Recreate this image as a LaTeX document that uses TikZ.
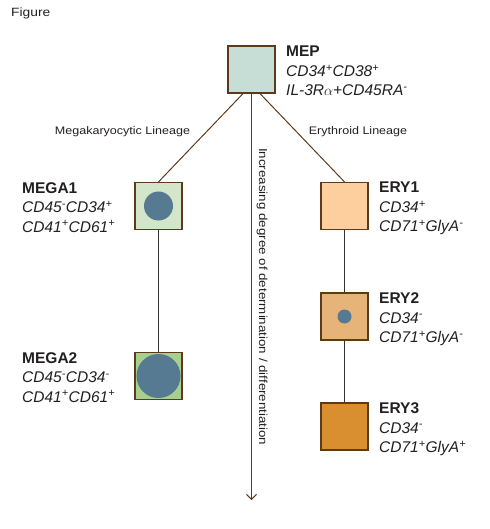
\documentclass[tikz,border=0pt]{standalone}
\usepackage{fontspec}
\setmainfont{Liberation Sans}
\newfontfamily\widesans[FakeStretch=1.15]{Liberation Sans}
\usetikzlibrary{arrows.meta}

\definecolor{cellline}{HTML}{5C3A1E}
\definecolor{inktext}{HTML}{231F20}
\definecolor{mepfill}{HTML}{C6DED6}
\definecolor{megafillA}{HTML}{D3E6C9}
\definecolor{megafillB}{HTML}{A8CF8E}
\definecolor{eryfillA}{HTML}{FDCF9F}
\definecolor{eryfillB}{HTML}{E6B478}
\definecolor{eryfillC}{HTML}{D98F2F}
\definecolor{nucleus}{HTML}{557A92}

\newcommand{\sps}{\textsuperscript{+}}
\newcommand{\sms}{\textsuperscript{-}}

\begin{document}
\begin{tikzpicture}[x=1pt, y=-1pt,
    cell/.style={draw=cellline, line width=1.2pt, minimum size=47pt, inner sep=0pt},
    marker/.style={anchor=north west, inner sep=0pt, align=left, text=inktext,
      font=\fontsize{15.5}{19.5}\selectfont},
    lineage/.style={inner sep=0pt, text=inktext, font=\widesans\fontsize{10.9}{13}\selectfont},
    stem/.style={draw=cellline, line width=1pt},
    link/.style={draw=black!80, line width=1pt}]
  \useasboundingbox (0,0) rectangle (489,529);

  \node [anchor=north west, inner sep=0pt, text=inktext,
    font=\widesans\fontsize{12}{14}\selectfont] (title) at (11,7.5) {Figure};

  % cells
  \node [cell, fill=mepfill] (mep) at (251.5,69.5) {};
  \node [cell, fill=megafillA] (mega1) at (158.5,206) {};
  \node [cell, fill=megafillB] (mega2) at (158.5,376) {};
  \node [cell, fill=eryfillA] (ery1) at (344.5,206) {};
  \node [cell, fill=eryfillB] (ery2) at (344.5,316.5) {};
  \node [cell, fill=eryfillC] (ery3) at (344.5,426.5) {};

  \fill [nucleus] (mega1.center) circle (14.5);
  \fill [nucleus] (mega2.center) circle (22);
  \fill [nucleus] (ery2.center) circle (7);

  % markers
  \node [marker] (mep-text) at (286,46)
    {\textbf{MEP}\\\textit{CD34\sps CD38\sps}\\\textit{IL-3R$\alpha$+CD45RA\sms}};
  \node [marker] (mega1-text) at (22,182)
    {\textbf{MEGA1}\\\textit{CD45\sms CD34\sps}\\\textit{CD41\sps CD61\sps}};
  \node [marker] (mega2-text) at (22,352)
    {\textbf{MEGA2}\\\textit{CD45\sms CD34\sms}\\\textit{CD41\sps CD61\sps}};
  \node [marker] (ery1-text) at (379,182)
    {\textbf{ERY1}\\\textit{CD34\sps}\\\textit{CD71\sps GlyA\sms}};
  \node [marker] (ery2-text) at (379,292.5)
    {\textbf{ERY2}\\\textit{CD34\sms}\\\textit{CD71\sps GlyA\sms}};
  \node [marker] (ery3-text) at (379,402.5)
    {\textbf{ERY3}\\\textit{CD34\sms}\\\textit{CD71\sps GlyA\sps}};

  % lineages
  \draw [stem] ([xshift=-8.5pt]mep.south) -- (mega1.north);
  \draw [stem] ([xshift=8.5pt]mep.south) -- (ery1.north);
  \draw [link] (mega1) -- (mega2);
  \draw [link] (ery1) -- (ery2);
  \draw [link] (ery2) -- (ery3);

  \node [lineage] (mega-lineage) at (122.5,132) {Megakaryocytic Lineage};
  \node [lineage] (ery-lineage) at (358,132) {Erythroid Lineage};

  % degree of differentiation
  \coordinate (deg-end) at (251.5,500);
  \draw [stem, -{Straight Barb[length=5pt, width=10pt]}] (mep.south) -- (deg-end);
  \node [lineage, rotate=-90, anchor=south west, font=\widesans\fontsize{11.6}{13}\selectfont]
    (deg-text) at (256.5,148)
    {Increasing degree of determination / differentiation};
\end{tikzpicture}
\end{document}
